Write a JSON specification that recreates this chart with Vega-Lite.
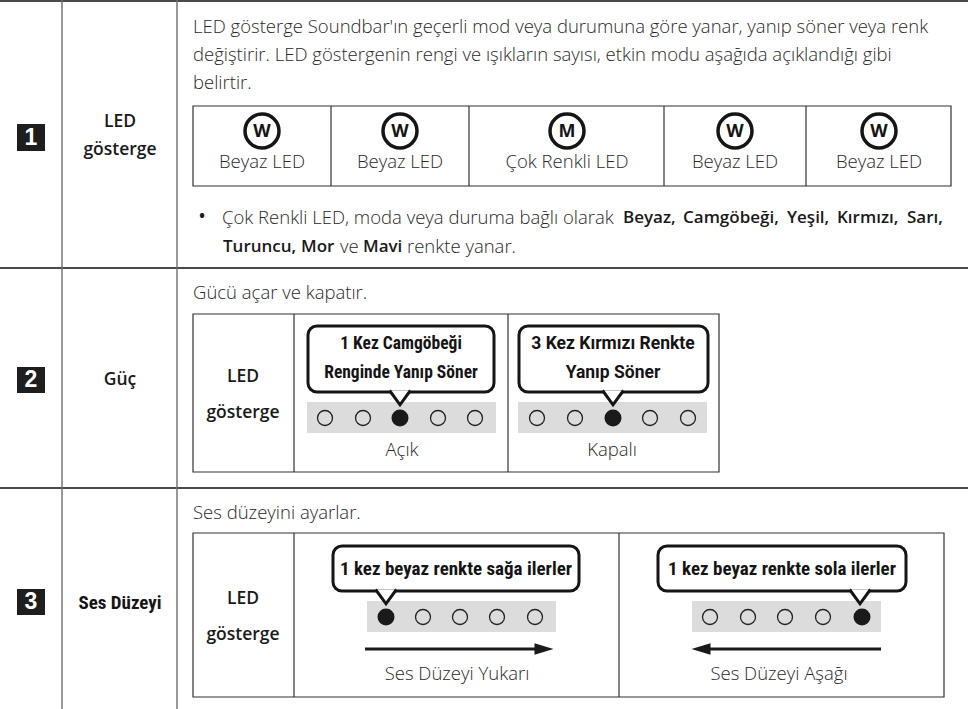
{
 "$schema": "https://vega.github.io/schema/vega-lite/v6.json",
 "width": 975, "height": 709, "padding": 0,
 "autosize": {"type": "none"},
 "background": "#ffffff",
 "config": {"view": {"stroke": null}},
 "datasets": {
  "greybars": [
   {"x": 307, "y": 402, "x2": 496, "y2": 433},
   {"x": 518, "y": 402, "x2": 707, "y2": 433},
   {"x": 367, "y": 601, "x2": 556, "y2": 632},
   {"x": 692, "y": 601, "x2": 881, "y2": 632}
  ],
  "numboxes": [
   {"x": 17, "y": 124, "x2": 45, "y2": 151},
   {"x": 17, "y": 367, "x2": 45, "y2": 393},
   {"x": 17, "y": 589, "x2": 45, "y2": 615}
  ],
  "boxes": [
   {"x": 193, "y": 106, "x2": 951, "y2": 186},
   {"x": 193, "y": 314, "x2": 719, "y2": 472},
   {"x": 193, "y": 533, "x2": 944, "y2": 697}
  ],
  "gridH": [
   {"x": 0, "y": 1, "x2": 968, "y2": 1},
   {"x": 0, "y": 268, "x2": 968, "y2": 268},
   {"x": 0, "y": 488, "x2": 968, "y2": 488}
  ],
  "gridV": [
   {"x": 62, "y": 0, "x2": 62, "y2": 709},
   {"x": 177, "y": 0, "x2": 177, "y2": 709}
  ],
  "dividers": [
   {"x": 331, "y": 106, "x2": 331, "y2": 186},
   {"x": 469, "y": 106, "x2": 469, "y2": 186},
   {"x": 664, "y": 106, "x2": 664, "y2": 186},
   {"x": 806, "y": 106, "x2": 806, "y2": 186},
   {"x": 294, "y": 314, "x2": 294, "y2": 472},
   {"x": 508, "y": 314, "x2": 508, "y2": 472},
   {"x": 294, "y": 533, "x2": 294, "y2": 697},
   {"x": 619, "y": 533, "x2": 619, "y2": 697}
  ],
  "bubbles": [
   {"x": 308, "y": 326, "x2": 494, "y2": 392},
   {"x": 519, "y": 326, "x2": 708, "y2": 392},
   {"x": 333, "y": 546, "x2": 579, "y2": 591},
   {"x": 658, "y": 546, "x2": 906, "y2": 591}
  ],
  "pointers": [
   {"x": 400, "y": 397},
   {"x": 613, "y": 397},
   {"x": 386, "y": 596},
   {"x": 860, "y": 596}
  ],
  "arrowLines": [
   {"x": 365, "y": 649, "x2": 546, "y2": 649},
   {"x": 700, "y": 649, "x2": 881, "y2": 649}
  ],
  "arrowHeads": [
   {"x": 544, "y": 649, "d": "right"},
   {"x": 701, "y": 649, "d": "left"}
  ],
  "openDots": [
   {"x": 325, "y": 418}, {"x": 363, "y": 418}, {"x": 438, "y": 418}, {"x": 475, "y": 418},
   {"x": 537, "y": 418}, {"x": 575, "y": 418}, {"x": 650, "y": 418}, {"x": 688, "y": 418},
   {"x": 423, "y": 617}, {"x": 460, "y": 617}, {"x": 497, "y": 617}, {"x": 535, "y": 617},
   {"x": 710, "y": 617}, {"x": 748, "y": 617}, {"x": 785, "y": 617}, {"x": 823, "y": 617}
  ],
  "filledDots": [
   {"x": 400, "y": 418}, {"x": 613, "y": 418}, {"x": 386, "y": 617}, {"x": 862, "y": 617}
  ],
  "icons": [
   {"x": 262, "y": 131, "t": "W"},
   {"x": 400, "y": 131, "t": "W"},
   {"x": 567, "y": 131, "t": "M"},
   {"x": 735, "y": 131, "t": "W"},
   {"x": 879, "y": 131, "t": "W"}
  ],
  "regLeft": [
   {"x": 193, "y": 27, "t": "LED gösterge Soundbar'ın geçerli mod veya durumuna göre yanar, yanıp söner veya renk"},
   {"x": 193, "y": 55, "t": "değiştirir. LED göstergenin rengi ve ışıkların sayısı, etkin modu aşağıda açıklandığı gibi"},
   {"x": 193, "y": 83, "t": "belirtir."},
   {"x": 222, "y": 218, "t": "Çok Renkli LED, moda veya duruma bağlı olarak"},
   {"x": 340, "y": 247, "t": "ve"},
   {"x": 407, "y": 247, "t": "renkte yanar."},
   {"x": 193, "y": 293, "t": "Gücü açar ve kapatır."},
   {"x": 193, "y": 513, "t": "Ses düzeyini ayarlar."}
  ],
  "boldLeft": [
   {"x": 623, "y": 218, "t": "Beyaz,"},
   {"x": 683, "y": 218, "t": "Camgöbeği,"},
   {"x": 787, "y": 218, "t": "Yeşil,"},
   {"x": 837, "y": 218, "t": "Kırmızı,"},
   {"x": 907, "y": 218, "t": "Sarı,"},
   {"x": 223, "y": 247, "t": "Turuncu,"},
   {"x": 301, "y": 247, "t": "Mor"},
   {"x": 363, "y": 247, "t": "Mavi"}
  ],
  "regCenter": [
   {"x": 262, "y": 162, "t": "Beyaz LED"},
   {"x": 400, "y": 162, "t": "Beyaz LED"},
   {"x": 567, "y": 162, "t": "Çok Renkli LED"},
   {"x": 735, "y": 162, "t": "Beyaz LED"},
   {"x": 879, "y": 162, "t": "Beyaz LED"},
   {"x": 402, "y": 450, "t": "Açık"},
   {"x": 612, "y": 450, "t": "Kapalı"},
   {"x": 457, "y": 674, "t": "Ses Düzeyi Yukarı"},
   {"x": 779, "y": 674, "t": "Ses Düzeyi Aşağı"}
  ],
  "boldCenter": [
   {"x": 120, "y": 122, "t": "LED"},
   {"x": 120, "y": 150, "t": "gösterge"},
   {"x": 120, "y": 380, "t": "Güç"},
   {"x": 243, "y": 377, "t": "LED"},
   {"x": 243, "y": 413, "t": "gösterge"},
   {"x": 243, "y": 599, "t": "LED"},
   {"x": 243, "y": 635, "t": "gösterge"},
   {"x": 202, "y": 217, "t": "•"}
  ],
  "narrowA": [
   {"x": 401, "y": 344, "t": "1 Kez Camgöbeği"},
   {"x": 401, "y": 373, "t": "Renginde Yanıp Söner"}
  ],
  "wideB": [
   {"x": 613, "y": 344, "t": "3 Kez Kırmızı Renkte"},
   {"x": 613, "y": 373, "t": "Yanıp Söner"}
  ],
  "narrowC": [
   {"x": 456, "y": 569, "t": "1 kez beyaz renkte sağa ilerler"},
   {"x": 782, "y": 569, "t": "1 kez beyaz renkte sola ilerler"},
   {"x": 120, "y": 603, "t": "Ses Düzeyi"}
  ],
  "digits": [
   {"x": 31, "y": 138, "t": "1"},
   {"x": 31, "y": 380, "t": "2"},
   {"x": 31, "y": 602, "t": "3"}
  ]
 },
 "encoding": {
  "x": {"field": "x", "type": "quantitative", "axis": null, "scale": {"domain": [0, 975], "range": [0, 975], "nice": false, "zero": false}},
  "y": {"field": "y", "type": "quantitative", "axis": null, "scale": {"domain": [0, 709], "range": [0, 709], "nice": false, "zero": false}}
 },
 "layer": [
  {"data": {"name": "greybars"}, "mark": {"type": "rect", "fill": "#dcdcdc"},
   "encoding": {"x2": {"field": "x2"}, "y2": {"field": "y2"}}},
  {"data": {"name": "numboxes"}, "mark": {"type": "rect", "fill": "#1e1e1e"},
   "encoding": {"x2": {"field": "x2"}, "y2": {"field": "y2"}}},
  {"data": {"name": "boxes"}, "mark": {"type": "rect", "fill": "#ffffff", "fillOpacity": 0, "stroke": "#333333", "strokeWidth": 1.2},
   "encoding": {"x2": {"field": "x2"}, "y2": {"field": "y2"}}},
  {"data": {"name": "gridH"}, "mark": {"type": "rule", "stroke": "#4a4a4a", "strokeWidth": 2},
   "encoding": {"x2": {"field": "x2"}, "y2": {"field": "y2"}}},
  {"data": {"name": "gridV"}, "mark": {"type": "rule", "stroke": "#6e6e6e", "strokeWidth": 1.4},
   "encoding": {"x2": {"field": "x2"}, "y2": {"field": "y2"}}},
  {"data": {"name": "dividers"}, "mark": {"type": "rule", "stroke": "#333333", "strokeWidth": 1.2},
   "encoding": {"x2": {"field": "x2"}, "y2": {"field": "y2"}}},
  {"data": {"name": "bubbles"}, "mark": {"type": "rect", "fill": "#ffffff", "stroke": "#151515", "strokeWidth": 3, "cornerRadius": 9},
   "encoding": {"x2": {"field": "x2"}, "y2": {"field": "y2"}}},
  {"data": {"name": "pointers"}, "mark": {"type": "point", "shape": "M-0.8,-0.5L0,0.6L0.8,-0.5", "size": 676, "fill": "#ffffff", "stroke": "#151515", "strokeWidth": 3, "opacity": 1, "fillOpacity": 1, "strokeJoin": "miter"}},
  {"data": {"name": "arrowLines"}, "mark": {"type": "rule", "stroke": "#1a1a1a", "strokeWidth": 3},
   "encoding": {"x2": {"field": "x2"}, "y2": {"field": "y2"}}},
  {"data": {"name": "arrowHeads"}, "mark": {"type": "point", "size": 361, "fill": "#1a1a1a", "stroke": null, "opacity": 1, "fillOpacity": 1},
   "encoding": {"shape": {"field": "d", "type": "nominal", "legend": null, "scale": {"domain": ["right", "left"], "range": ["M-1,-0.6L1,0L-1,0.6Z", "M1,-0.6L-1,0L1,0.6Z"]}}}},
  {"data": {"name": "openDots"}, "mark": {"type": "point", "shape": "circle", "size": 225, "filled": false, "stroke": "#222222", "strokeWidth": 1.3, "opacity": 1}},
  {"data": {"name": "filledDots"}, "mark": {"type": "point", "shape": "circle", "size": 289, "filled": true, "fill": "#1a1a1a", "opacity": 1, "fillOpacity": 1}},
  {"data": {"name": "icons"}, "mark": {"type": "point", "shape": "circle", "size": 1156, "fill": "#ffffff", "stroke": "#151515", "strokeWidth": 3.5, "opacity": 1, "fillOpacity": 1}},
  {"data": {"name": "icons"}, "mark": {"type": "text", "font": "Open Sans", "fontWeight": 700, "fontSize": 18, "align": "center", "baseline": "middle", "fill": "#151515", "dy": 1},
   "encoding": {"text": {"field": "t"}}},
  {"data": {"name": "regLeft"}, "mark": {"type": "text", "font": "Open Sans", "fontWeight": 300, "fontSize": 18.5, "align": "left", "baseline": "middle", "fill": "#2a2a2a"},
   "encoding": {"text": {"field": "t"}}},
  {"data": {"name": "boldLeft"}, "mark": {"type": "text", "font": "Open Sans", "fontWeight": 600, "fontSize": 17, "align": "left", "baseline": "middle", "fill": "#1a1a1a"},
   "encoding": {"text": {"field": "t"}}},
  {"data": {"name": "regCenter"}, "mark": {"type": "text", "font": "Open Sans", "fontWeight": 300, "fontSize": 18.5, "align": "center", "baseline": "middle", "fill": "#2a2a2a"},
   "encoding": {"text": {"field": "t"}}},
  {"data": {"name": "boldCenter"}, "mark": {"type": "text", "font": "Open Sans", "fontWeight": 600, "fontSize": 17.5, "align": "center", "baseline": "middle", "fill": "#1a1a1a"},
   "encoding": {"text": {"field": "t"}}},
  {"data": {"name": "narrowA"}, "mark": {"type": "text", "font": "Roboto Condensed, Roboto", "fontWeight": "bold", "fontSize": 17.5, "align": "center", "baseline": "middle", "fill": "#151515"},
   "encoding": {"text": {"field": "t"}}},
  {"data": {"name": "wideB"}, "mark": {"type": "text", "font": "Roboto", "fontWeight": "bold", "fontSize": 17.5, "align": "center", "baseline": "middle", "fill": "#151515"},
   "encoding": {"text": {"field": "t"}}},
  {"data": {"name": "narrowC"}, "mark": {"type": "text", "font": "Roboto Condensed, Roboto", "fontWeight": "bold", "fontSize": 19, "align": "center", "baseline": "middle", "fill": "#151515"},
   "encoding": {"text": {"field": "t"}}},
  {"data": {"name": "digits"}, "mark": {"type": "text", "font": "Liberation Sans", "fontWeight": "bold", "fontSize": 23, "align": "center", "baseline": "middle", "fill": "#ffffff"},
   "encoding": {"text": {"field": "t"}}}
 ]
}
